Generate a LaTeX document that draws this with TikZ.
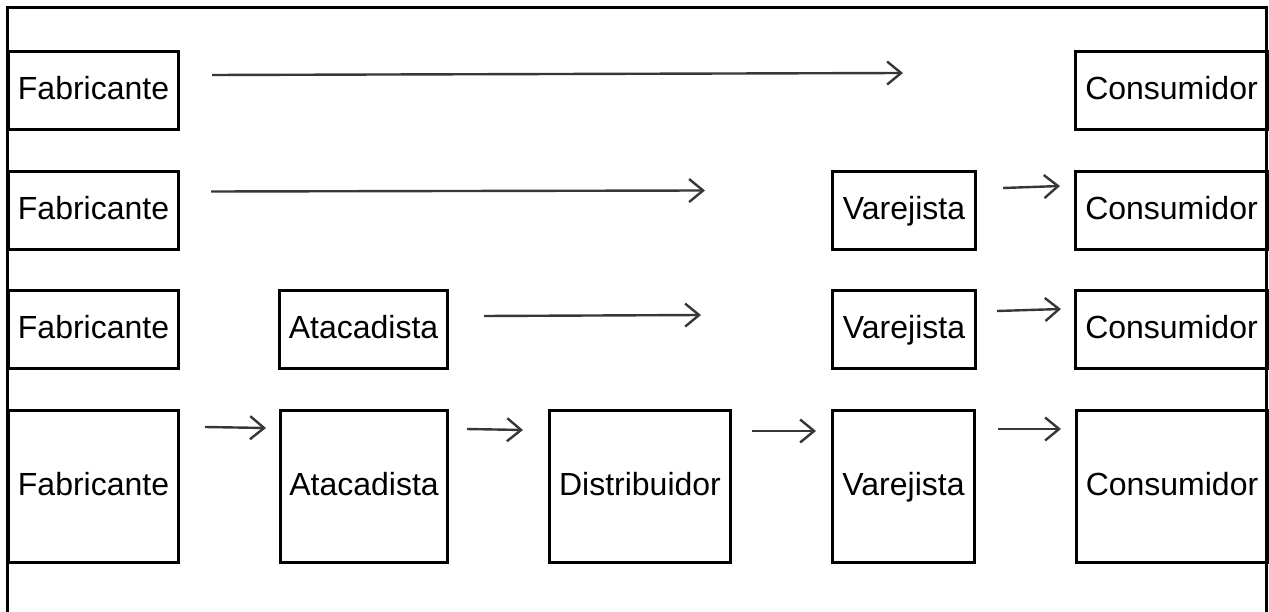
\documentclass[tikz,border=0pt]{standalone}
\usepackage{fontspec}
\setmainfont{Liberation Sans}
\usetikzlibrary{arrows.meta}
\definecolor{arrowgray}{RGB}{55,55,55}
\begin{document}
\begin{tikzpicture}[x=1pt,y=-1pt,
  box/.style={draw, line width=3pt, inner sep=0pt, anchor=north west,
    text height=24pt, text depth=6pt, font=\fontsize{32}{38}\selectfont},
  flow/.style={draw=arrowgray, line width=2.4pt,
    -{Straight Barb[length=14pt,width=23pt,line width=2.4pt]}}]
  % page area and outer frame
  \fill[white] (0,0) rectangle (1269,612);
  \useasboundingbox (0,0) rectangle (1269,612);
  \draw[line width=3pt] (7,612) -- (7,8) -- (1266,8) -- (1266,612);

  % channel level 0
  \node[box, minimum width=170pt, minimum height=78pt] (f1) at (7,50) {Fabricante};
  \node[box, minimum width=192pt, minimum height=78pt] (c1) at (1074,50) {Consumidor};
  % channel level 1
  \node[box, minimum width=170pt, minimum height=78pt] (f2) at (7,170) {Fabricante};
  \node[box, minimum width=143pt, minimum height=78pt] (v2) at (831,170) {Varejista};
  \node[box, minimum width=192pt, minimum height=78pt] (c2) at (1074,170) {Consumidor};
  % channel level 2
  \node[box, minimum width=170pt, minimum height=78pt] (f3) at (7,289) {Fabricante};
  \node[box, minimum width=168pt, minimum height=78pt] (a3) at (278,289) {Atacadista};
  \node[box, minimum width=143pt, minimum height=78pt] (v3) at (831,289) {Varejista};
  \node[box, minimum width=192pt, minimum height=78pt] (c3) at (1074,289) {Consumidor};
  % channel level 3
  \node[box, minimum width=170pt, minimum height=152pt] (f4) at (7,409) {Fabricante};
  \node[box, minimum width=167pt, minimum height=152pt] (a4) at (279,409) {Atacadista};
  \node[box, minimum width=181pt, minimum height=152pt] (d4) at (548,409) {Distribuidor};
  \node[box, minimum width=142pt, minimum height=152pt] (v4) at (831,409) {Varejista};
  \node[box, minimum width=191pt, minimum height=152pt] (c4) at (1075,409) {Consumidor};

  % arrow end points
  \coordinate (r1s) at (212,75);    \coordinate (r1e) at (903,73);
  \coordinate (r2s) at (211,191.5); \coordinate (r2e) at (705,190.5);
  \coordinate (r2vs) at (1003,188); \coordinate (r2ve) at (1060,186);
  \coordinate (r3s) at (484,316);   \coordinate (r3e) at (701,315);
  \coordinate (r3vs) at (997,311);  \coordinate (r3ve) at (1061,309);
  \coordinate (r4as) at (205,427);  \coordinate (r4ae) at (266,428);
  \coordinate (r4bs) at (467,429);  \coordinate (r4be) at (523,430);
  \coordinate (r4cs) at (752,431);  \coordinate (r4ce) at (816,431);
  \coordinate (r4ds) at (998,429);  \coordinate (r4de) at (1061,429);

  % flows
  \draw[flow] (r1s) -- (r1e);
  \draw[flow] (r2s) -- (r2e);
  \draw[flow] (r2vs) -- (r2ve);
  \draw[flow] (r3s) -- (r3e);
  \draw[flow] (r3vs) -- (r3ve);
  \draw[flow] (r4as) -- (r4ae);
  \draw[flow] (r4bs) -- (r4be);
  \draw[flow] (r4cs) -- (r4ce);
  \draw[flow] (r4ds) -- (r4de);
\end{tikzpicture}
\end{document}
